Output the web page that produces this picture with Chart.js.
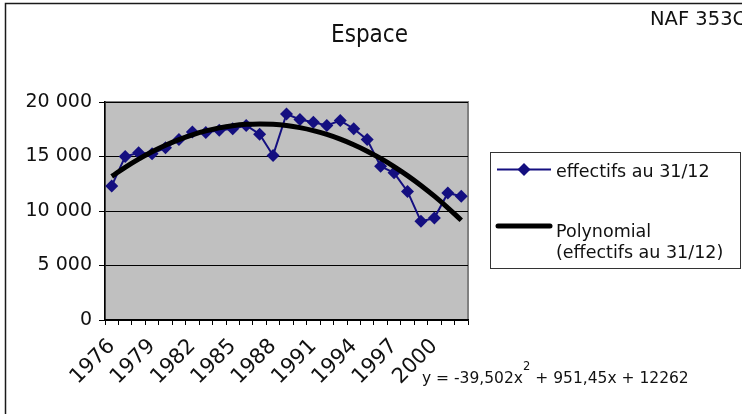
<!DOCTYPE html>
<html>
<head>
<meta charset="utf-8">
<script src="https://cdn.jsdelivr.net/npm/chart.js@4.4.1/dist/chart.umd.min.js"></script>
<style>
  html, body { margin: 0; padding: 0; background: #fff; }
  canvas { display: block; }
</style>
</head>
<body>
<canvas id="chart" width="742" height="414"></canvas>
<script>
// Workforce at 31 December, space industry (NAF 353C)
const years = ['1976','1977','1978','1979','1980','1981','1982','1983','1984','1985',
               '1986','1987','1988','1989','1990','1991','1992','1993','1994','1995',
               '1996','1997','1998','1999','2000','2001','2002'];
const effectifs = [12300, 15000, 15350, 15250, 15800, 16550, 17250, 17200, 17400, 17550,
                   17850, 17050, 15100, 18900, 18400, 18150, 17850, 18300, 17550, 16550,
                   14100, 13500, 11800, 9050, 9350, 11650, 11350];
// Second-order trend: y = a x² + b x + c, with x = 1 for the first year
const trendCoeffs = [-39.502, 951.45, 12262];
const yTickValues = [0, 5000, 10000, 15000, 20000];
const xLabelStep = 3;

const chartTitle = 'Espace';
const codeLabel = 'NAF 353C';
const seriesLabel = 'effectifs au 31/12';
const trendLabelLines = ['Polynomial', '(effectifs au 31/12)'];
const equationParts = ['y = -39,502x', '2', ' + 951,45x + 12262'];

const trendValues = years.map((_, i) => {
  const x = i + 1;
  return trendCoeffs[0] * x * x + trendCoeffs[1] * x + trendCoeffs[2];
});

const FONT = "'DejaVu Sans', sans-serif";
const NAVY = '#140f80';
const INK = '#111111';

function groupThousands(v) {
  return String(v).replace(/\B(?=(\d{3})+(?!\d))/g, ' ');
}

// Page frame, plot background and its border
const framePlugin = {
  id: 'frame',
  beforeDraw(chart) {
    const ctx = chart.ctx;
    const a = chart.chartArea;
    ctx.save();
    ctx.fillStyle = '#ffffff';
    ctx.fillRect(0, 0, chart.width, chart.height);
    ctx.strokeStyle = '#1a1a1a';
    ctx.lineWidth = 1.5;
    ctx.beginPath();
    ctx.moveTo(5.5, chart.height);
    ctx.lineTo(5.5, 3.5);
    ctx.lineTo(chart.width, 3.5);
    ctx.stroke();
    ctx.fillStyle = '#c0c0c0';
    ctx.fillRect(a.left, a.top, a.right - a.left, a.bottom - a.top);
    ctx.strokeStyle = '#808080';
    ctx.lineWidth = 2;
    ctx.strokeRect(a.left, a.top, a.right - a.left, a.bottom - a.top);
    ctx.restore();
  }
};

// Title, code, legend box and trend equation
const annotationPlugin = {
  id: 'annotations',
  afterDraw(chart) {
    const ctx = chart.ctx;
    ctx.save();
    ctx.fillStyle = INK;
    ctx.textBaseline = 'alphabetic';

    ctx.font = "24px 'DejaVu Sans Condensed', 'DejaVu Sans', sans-serif";
    ctx.textAlign = 'center';
    ctx.fillText(chartTitle, 369.5, 42);

    ctx.font = '19.5px ' + FONT;
    ctx.textAlign = 'left';
    ctx.fillText(codeLabel, 650, 25);

    // Legend
    ctx.fillStyle = '#ffffff';
    ctx.fillRect(490.5, 152.5, 250, 116);
    ctx.strokeStyle = '#333333';
    ctx.lineWidth = 1;
    ctx.strokeRect(490.5, 152.5, 250, 116);

    const s0 = chart.data.datasets[1];
    ctx.strokeStyle = s0.borderColor;
    ctx.lineWidth = s0.borderWidth;
    ctx.beginPath();
    ctx.moveTo(497, 169.5);
    ctx.lineTo(551, 169.5);
    ctx.stroke();
    ctx.fillStyle = s0.pointBackgroundColor;
    ctx.beginPath();
    ctx.moveTo(524 - 6.5, 169.5); ctx.lineTo(524, 163); ctx.lineTo(530.5, 169.5); ctx.lineTo(524, 176);
    ctx.closePath();
    ctx.fill();

    const s1 = chart.data.datasets[0];
    ctx.strokeStyle = s1.borderColor;
    ctx.lineWidth = s1.borderWidth;
    ctx.lineCap = 'round';
    ctx.beginPath();
    ctx.moveTo(498, 226);
    ctx.lineTo(550, 226);
    ctx.stroke();

    ctx.fillStyle = INK;
    ctx.font = '17.5px ' + FONT;
    ctx.fillText(s0.label, 556, 176.5);
    ctx.fillText(trendLabelLines[0], 556, 236.5);
    ctx.fillText(trendLabelLines[1], 556, 258);

    // Equation with superscript exponent
    ctx.font = '15.5px ' + FONT;
    let x = 422;
    ctx.fillText(equationParts[0], x, 383);
    x += ctx.measureText(equationParts[0]).width;
    ctx.font = '11.5px ' + FONT;
    ctx.fillText(equationParts[1], x, 370);
    x += ctx.measureText(equationParts[1]).width;
    ctx.font = '15.5px ' + FONT;
    ctx.fillText(equationParts[2], x, 383);
    ctx.restore();
  }
};

new Chart(document.getElementById('chart'), {
  type: 'line',
  data: {
    labels: years,
    datasets: [
      {
        label: trendLabelLines.join(' '),
        data: trendValues,
        borderColor: '#000000',
        borderWidth: 5,
        pointRadius: 0,
        tension: 0.4,
        fill: false,
        order: 0
      },
      {
        label: seriesLabel,
        data: effectifs,
        borderColor: NAVY,
        borderWidth: 2,
        pointStyle: 'rectRot',
        pointRadius: 6.5,
        pointBackgroundColor: NAVY,
        pointBorderColor: NAVY,
        pointBorderWidth: 0,
        tension: 0,
        fill: false,
        order: 1
      }
    ]
  },
  options: {
    responsive: false,
    animation: false,
    devicePixelRatio: 1,
    layout: { padding: { left: 5, right: 274, top: 102, bottom: 0 } },
    plugins: {
      legend: { display: false },
      title: { display: false },
      tooltip: { enabled: false }
    },
    scales: {
      x: {
        type: 'category',
        offset: true,
        afterFit(scale) { scale.height = 94; },
        grid: {
          offset: true,
          drawOnChartArea: false,
          drawTicks: true,
          tickLength: 5,
          color: '#000000',
          lineWidth: 1
        },
        border: { color: '#000000', width: 1.5 },
        ticks: {
          autoSkip: false,
          minRotation: 45,
          maxRotation: 45,
          padding: 9,
          color: INK,
          font: { family: FONT, size: 21 },
          callback(value, index) { return index % xLabelStep === 0 ? years[index] : ''; }
        }
      },
      y: {
        min: yTickValues[0],
        max: yTickValues[yTickValues.length - 1],
        afterFit(scale) { scale.width = 100; },
        afterBuildTicks(scale) { scale.ticks = yTickValues.map(v => ({ value: v })); },
        grid: {
          color: '#000000',
          lineWidth: 1,
          drawTicks: true,
          tickLength: 6
        },
        border: { color: '#000000', width: 1.5 },
        ticks: {
          padding: 7,
          color: INK,
          font: { family: FONT, size: 19 },
          callback(value) { return groupThousands(value); }
        }
      }
    }
  },
  plugins: [framePlugin, annotationPlugin]
});
</script>
</body>
</html>
